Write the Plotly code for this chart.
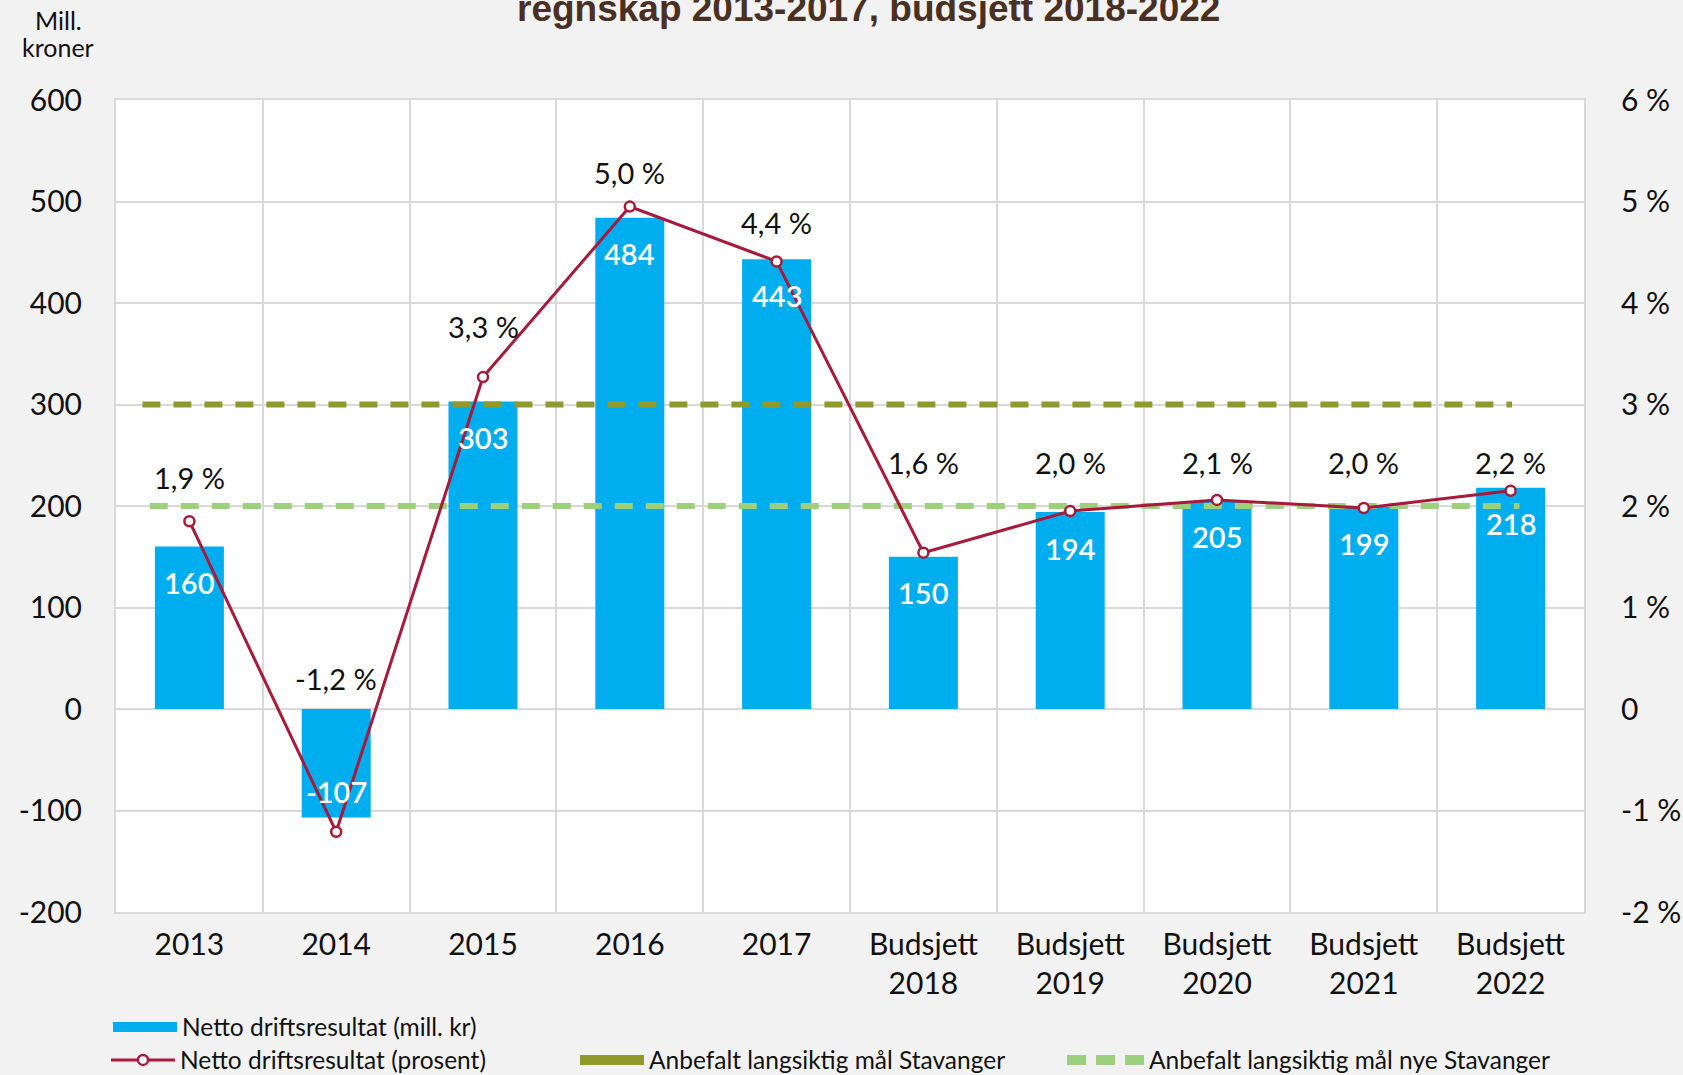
import plotly.graph_objects as go

# ---------------- data ----------------
categories = ["2013", "2014", "2015", "2016", "2017",
              "Budsjett<br>2018", "Budsjett<br>2019", "Budsjett<br>2020",
              "Budsjett<br>2021", "Budsjett<br>2022"]
result_mill = [160, -107, 303, 484, 443, 150, 194, 205, 199, 218]
result_pct = [1.85, -1.21, 3.27, 4.95, 4.41, 1.54, 1.95, 2.06, 1.98, 2.15]
pct_labels = ["1,9 %", "-1,2 %", "3,3 %", "5,0 %", "4,4 %",
              "1,6 %", "2,0 %", "2,1 %", "2,0 %", "2,2 %"]
target_stavanger = 300
target_nye = 200
left_ticks = [-200, -100, 0, 100, 200, 300, 400, 500, 600]
left_tick_labels = ["-200", "-100", "0", "100", "200", "300", "400", "500", "600"]
right_ticks = [-2, -1, 0, 1, 2, 3, 4, 5, 6]
right_tick_labels = ["-2 %", "-1 %", "0", "1 %", "2 %", "3 %", "4 %", "5 %", "6 %"]

name_bar = "Netto driftsresultat (mill. kr)"
name_line = "Netto driftsresultat (prosent)"
name_t1 = "Anbefalt langsiktig mål Stavanger"
name_t2 = "Anbefalt langsiktig mål nye Stavanger"
title_text = "regnskap 2013-2017, budsjett 2018-2022"

# ---------------- layout / styles ----------------
# vertical placement of the percentage labels (in % units on the right axis)
pct_label_pos = [2.28, 0.30, 3.77, 5.29, 4.79, 2.43, 2.43, 2.43, 2.43, 2.43]

BLUE = "#00aeef"
RED = "#a8193a"
OLIVE = "#8f9a2b"
LGREEN = "#9dd07e"
GRID = "#d9d9d9"
TXT = "#111111"
FONT = "Lato"
W, H = 1683, 1075
L, R, T, B = 116, 99, 100, 163
pw, ph = W - L - R, H - T - B

xs = list(range(len(categories)))
n = len(categories)

fig = go.Figure()

fig.add_trace(go.Bar(
    x=xs, y=result_mill, width=0.47, marker=dict(color=BLUE, line=dict(width=0)),
    showlegend=False, name=name_bar, hoverinfo="skip"))

# target lines (extend slightly beyond category centres like the original)
fig.add_trace(go.Scatter(
    x=[-0.32, n - 1 + 0.01], y=[target_stavanger, target_stavanger], mode="lines",
    line=dict(color=OLIVE, width=6, dash="18px,13px"), showlegend=False, name=name_t1))
fig.add_trace(go.Scatter(
    x=[-0.27, n - 1 + 0.06], y=[target_nye, target_nye], mode="lines",
    line=dict(color=LGREEN, width=6, dash="18px,13px"), showlegend=False, name=name_t2))

fig.add_trace(go.Scatter(
    x=xs, y=result_pct, yaxis="y2", mode="lines+markers", name=name_line,
    line=dict(color=RED, width=3),
    marker=dict(symbol="circle", size=10, color="white", line=dict(color=RED, width=2.5)),
    legend="legend2"))

# legend-only entries
fig.add_trace(go.Scatter(x=[None], y=[None], mode="lines", name=name_bar,
                         line=dict(color=BLUE, width=12), legend="legend"))
fig.add_trace(go.Scatter(x=[None], y=[None], mode="lines", name=name_t1,
                         line=dict(color=OLIVE, width=12), legend="legend3"))
fig.add_trace(go.Scatter(x=[None], y=[None], mode="lines", name=name_t2,
                         line=dict(color=LGREEN, width=10, dash="19px,10px"), legend="legend4"))


def cx(px):
    return (px - L) / pw


def cy(py):
    return (H - B - py) / ph


annotations = []
for i, v in enumerate(result_mill):
    annotations.append(dict(
        x=i, y=v, xref="x", yref="y", text=str(v), showarrow=False,
        yanchor="middle", yshift=-36 if v > 0 else 26,
        font=dict(family=FONT, size=29, color="white", weight=600)))

for i, lab in enumerate(pct_labels):
    annotations.append(dict(
        x=i, y=pct_label_pos[i], xref="x", yref="y2", text=lab, showarrow=False,
        yanchor="middle", font=dict(family=FONT, size=29, color=TXT)))

annotations.append(dict(
    x=cx(868), y=cy(8), xref="paper", yref="paper", text=title_text,
    showarrow=False, xanchor="center", yanchor="middle",
    font=dict(family="Liberation Sans, Arial", size=37, color="#4a3022", weight="bold")))
annotations.append(dict(
    x=cx(58), y=cy(20), xref="paper", yref="paper", text="Mill.",
    showarrow=False, xanchor="center", yanchor="middle",
    font=dict(family=FONT, size=25, color=TXT)))
annotations.append(dict(
    x=cx(58), y=cy(47), xref="paper", yref="paper", text="kroner",
    showarrow=False, xanchor="center", yanchor="middle",
    font=dict(family=FONT, size=25, color=TXT)))

legend_common = dict(font=dict(family=FONT, size=24.5, color=TXT),
                     bgcolor="rgba(0,0,0,0)", itemwidth=64,
                     xref="container", yref="container",
                     xanchor="left", yanchor="middle", itemclick=False,
                     itemdoubleclick=False)

fig.update_layout(
    width=W, height=H,
    paper_bgcolor="#f2f2f2", plot_bgcolor="white",
    margin=dict(l=L, r=R, t=T, b=B, autoexpand=False),
    font=dict(family=FONT, size=30, color=TXT),
    xaxis=dict(range=[-0.5, n - 0.5], tickmode="array", tickvals=xs, ticktext=categories,
               showgrid=False, zeroline=False, ticks="", ticklabelstandoff=5,
               showline=True, linecolor=GRID, linewidth=2, mirror=True,
               tickfont=dict(family=FONT, size=30, color=TXT),
               minor=dict(tickmode="array", tickvals=[i - 0.5 for i in range(n + 1)],
                          showgrid=True, gridcolor=GRID, gridwidth=2, ticks="")),
    yaxis=dict(range=[-200, 600], tickmode="array", tickvals=left_ticks,
               ticktext=left_tick_labels,
               showgrid=True, gridcolor=GRID, gridwidth=2, zeroline=False,
               ticks="", ticklabelstandoff=26,
               showline=True, linecolor=GRID, linewidth=2, mirror=True,
               tickfont=dict(family=FONT, size=30, color=TXT)),
    yaxis2=dict(range=[-2, 6], overlaying="y", side="right", tickmode="array",
                tickvals=right_ticks, ticktext=right_tick_labels, showgrid=False,
                zeroline=False, ticks="", ticklabelstandoff=36,
                tickfont=dict(family=FONT, size=30, color=TXT)),
    annotations=annotations,
    legend=dict(x=108 / W, y=1 - 1027 / H, **legend_common),
    legend2=dict(x=106 / W, y=1 - 1060 / H, **legend_common),
    legend3=dict(x=575 / W, y=1 - 1060 / H, **legend_common),
    legend4=dict(x=1062 / W, y=1 - 1060 / H, **dict(legend_common, itemwidth=77)),
)

fig.write_html(
    "out.html",
    config={"displayModeBar": False, "staticPlot": True},
    post_script="document.body.style.margin='0';document.body.style.padding='0';"
                "document.body.style.overflow='hidden';"
                "document.body.style.background='#f2f2f2';")
